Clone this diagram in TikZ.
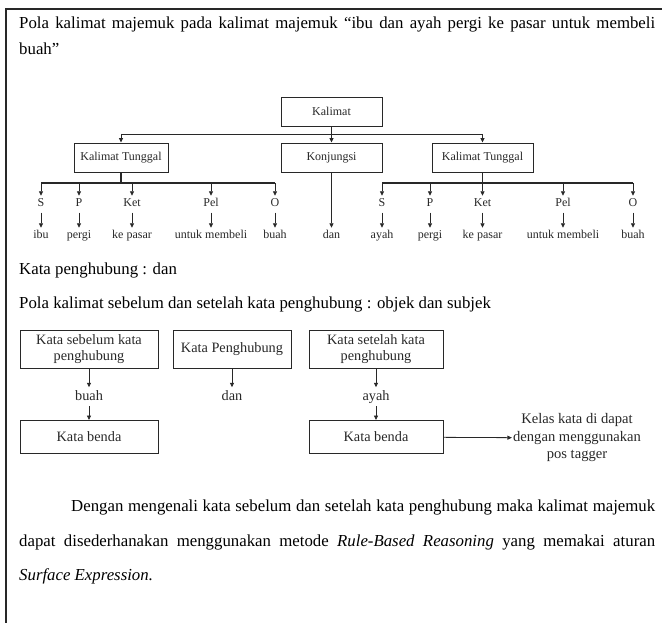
\documentclass[tikz,border=0pt]{standalone}
\usepackage{fontspec}
\setmainfont{Liberation Serif}
\usetikzlibrary{arrows.meta, positioning}
\definecolor{inkgray}{RGB}{40, 40, 40}

\begin{document}
\begin{tikzpicture}[x=1pt, y=-1pt,
    para/.style={anchor=base west, inner sep=0pt,
                 font=\fontsize{16.8}{20}\selectfont, text=black},
    box/.style={rectangle, draw=inkgray, line width=0.9pt, fill=white,
                minimum height=29pt, inner sep=2pt,
                font=\fontsize{12}{14}\selectfont, text=inkgray},
    lbl/.style={anchor=base, inner xsep=1pt, inner ysep=3pt,
                text height=8pt, text depth=2.5pt,
                font=\fontsize{12}{14}\selectfont, text=inkgray},
    boxb/.style={rectangle, draw=inkgray, line width=0.9pt, fill=white,
                 inner sep=2pt, align=center,
                 font=\fontsize{14.3}{16}\selectfont, text=inkgray},
    lblb/.style={anchor=base, inner xsep=1pt, inner ysep=3pt,
                 text height=9.5pt, text depth=3pt,
                 font=\fontsize{14.3}{16}\selectfont, text=inkgray},
    arr/.style={-{Triangle[length=4.5pt, width=4pt]}, line width=0.8pt, inkgray},
    bar/.style={line width=1.7pt, inkgray},
    ln/.style={line width=0.8pt, inkgray}
  ]
  \useasboundingbox (0,0) rectangle (662,623);
  \draw[line width=1.3pt, inkgray] (662,9) -- (6,9) -- (6,623);

  \node[para] (intro1) at (19,29)
        {\makebox[636pt][s]{Pola kalimat majemuk pada kalimat majemuk “ibu dan ayah pergi ke pasar untuk membeli}};
  \node[para] (intro2) at (19,55) {buah”};

  \node[box, minimum width=101pt] (kal) at (331.5,111.5) {Kalimat};
  \node[box, minimum width=94pt] (ktl) at (121,157.5) {Kalimat Tunggal};
  \node[box, minimum width=101pt] (konj) at (331.5,157.5) {Konjungsi};
  \node[box, minimum width=101pt] (ktr) at (482.5,157.5) {Kalimat Tunggal};
  \coordinate (tbar) at (0,134);
  \coordinate (lbar) at (0,183);
  \draw[ln] (kal) -- (kal |- tbar);
  \draw[ln] (ktl |- tbar) -- (ktr |- tbar);
  \draw[arr] (ktl |- tbar) -- (ktl);
  \draw[arr] (kal |- tbar) -- (konj);
  \draw[arr] (ktr |- tbar) -- (ktr);

  \foreach \x/\r/\w [count=\i] in {41/S/ibu, 79/P/pergi, 132/Ket/ke pasar,
                                   211/Pel/untuk membeli, 275/O/buah} {
    \node[lbl] (rl\i) at (\x,207) {\r};
    \node[lbl] (wl\i) at (\x,239) {\w};
    \draw[arr] (rl\i |- lbar) -- (rl\i);
    \draw[arr] (rl\i) -- (wl\i);
  }
  \foreach \x/\r/\w [count=\i] in {382/S/ayah, 430/P/pergi, 482.5/Ket/ke pasar,
                                   563/Pel/untuk membeli, 633/O/buah} {
    \node[lbl] (rr\i) at (\x,207) {\r};
    \node[lbl] (wr\i) at (\x,239) {\w};
    \draw[arr] (rr\i |- lbar) -- (rr\i);
    \draw[arr] (rr\i) -- (wr\i);
  }
  \draw[bar] (ktl) -- (ktl |- lbar);
  \draw[bar] (rl1 |- lbar) -- (rl5 |- lbar);
  \draw[bar] (ktr) -- (ktr |- lbar);
  \draw[bar] (rr1 |- lbar) -- (rr5 |- lbar);
  \node[lbl] (wk) at (331.5,239) {dan};
  \draw[arr] (konj) -- (wk);

  \node[para] (hub) at (19,274) {Kata penghubung : dan};
  \node[para] (pola) at (19,308)
        {Pola kalimat sebelum dan setelah kata penghubung : objek dan subjek};

  \node[boxb, minimum width=138pt, minimum height=38pt] (sebelum) at (89,349)
        {Kata sebelum kata\\penghubung};
  \node[boxb, minimum width=118pt, minimum height=38pt] (phub) at (232,349)
        {Kata Penghubung};
  \node[boxb, minimum width=134pt, minimum height=38pt] (setelah) at (376,349)
        {Kata setelah kata\\penghubung};
  \node[lblb] (wbuah) at (89,400) {buah};
  \node[lblb] (wdan) at (232,400) {dan};
  \node[lblb] (wayah) at (376,400) {ayah};
  \node[boxb, minimum width=138pt, minimum height=33pt] (kb1) at (89,437) {Kata benda};
  \node[boxb, minimum width=134pt, minimum height=33pt] (kb2) at (376,437) {Kata benda};
  \node[align=center, inner sep=1pt, font=\fontsize{14.6}{17.5}\selectfont,
        text=inkgray] (tagger) at (577,438)
        {Kelas kata di dapat\\dengan menggunakan\\pos tagger};
  \draw[arr] (sebelum) -- (wbuah);
  \draw[arr] (wbuah) -- (kb1);
  \draw[arr] (phub) -- (wdan);
  \draw[arr] (setelah) -- (wayah);
  \draw[arr] (wayah) -- (kb2);
  \draw[arr] (kb2) -- (tagger);

  \node[para] (end1) at (71,511)
        {\makebox[584pt][s]{Dengan mengenali kata sebelum dan setelah kata penghubung maka kalimat majemuk}};
  \node[para] (end2) at (19,546)
        {\makebox[636pt][s]{dapat disederhanakan menggunakan metode \textit{Rule-Based Reasoning} yang memakai aturan}};
  \node[para] (end3) at (19,580) {\textit{Surface Expression.}};
\end{tikzpicture}
\end{document}
